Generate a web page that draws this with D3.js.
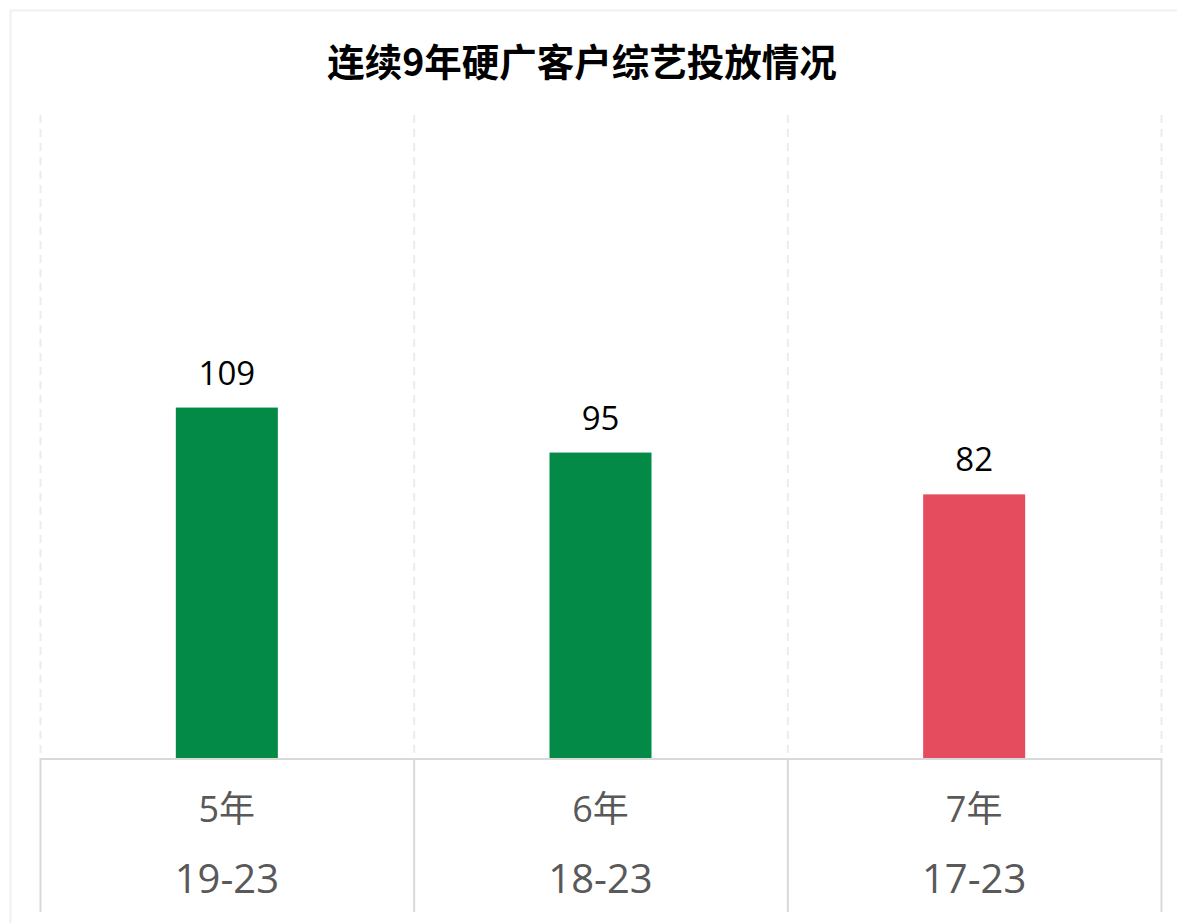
<!DOCTYPE html>
<html><head><meta charset="utf-8">
<script src="https://cdn.jsdelivr.net/npm/d3@7"></script>
<style>body{margin:0;background:#fff;font-family:"Open Sans","Noto Sans CJK SC",sans-serif;}</style>
</head><body>
<svg id="c" width="1177" height="923"></svg>
<script>
const categories = ["5年","6年","7年"];
const periods = ["19-23","18-23","17-23"];
const values = [109,95,82];
const colors = ["#048a47","#048a47","#e54c5e"];
const title = "连续9年硬广客户综艺投放情况";

const svg = d3.select("#c");
const m = {l:40, r:1161, t:115, b:758};
// outer frame
svg.append("rect").attr("x",10.5).attr("y",10.5).attr("width",1200).attr("height",1000)
  .attr("fill","none").attr("stroke","#f0f0f0").attr("stroke-width",2);

svg.append("text").attr("x",582).attr("y",76).attr("text-anchor","middle")
  .attr("font-family","'Noto Sans CJK SC',sans-serif").attr("font-weight","bold")
  .attr("font-size",37.5).attr("fill","#000").text(title);

const x = d3.scaleBand().domain(categories).range([m.l,m.r]).paddingInner(0).paddingOuter(0);
const y = d3.scaleLinear().domain([0,200]).range([m.b,m.t]);

// dashed grid
const bounds = [m.l, ...categories.map(c=>x(c)+x.bandwidth())];
svg.selectAll(".grid").data(bounds).enter().append("line")
  .attr("x1",d=>d+0.5).attr("x2",d=>d+0.5).attr("y1",m.t).attr("y2",m.b)
  .attr("stroke","#ececec").attr("stroke-width",2).attr("stroke-dasharray","8,6");

// bars
const bw = x.bandwidth()*0.273;
svg.selectAll(".bar").data(values).enter().append("rect")
  .attr("x",(d,i)=>x(categories[i])+x.bandwidth()/2-bw/2)
  .attr("width",bw)
  .attr("y",d=>y(d)).attr("height",d=>m.b-y(d))
  .attr("fill",(d,i)=>colors[i]);

svg.selectAll(".lbl").data(values).enter().append("text")
  .attr("x",(d,i)=>x(categories[i])+x.bandwidth()/2)
  .attr("y",d=>y(d)-23).attr("text-anchor","middle")
  .attr("font-size",33).attr("fill","#000").text(d=>d);

// category table
svg.append("line").attr("x1",m.l).attr("x2",m.r).attr("y1",m.b+1).attr("y2",m.b+1)
  .attr("stroke","#d9d9d9").attr("stroke-width",2);
svg.selectAll(".vb").data(bounds).enter().append("line")
  .attr("x1",d=>d+0.5).attr("x2",d=>d+0.5).attr("y1",m.b).attr("y2",912)
  .attr("stroke","#d9d9d9").attr("stroke-width",2);

const xAxis = svg.append("g");
categories.forEach((c,i)=>{
  const cx = x(c)+x.bandwidth()/2;
  xAxis.append("text").attr("x",cx).attr("y",822).attr("text-anchor","middle")
    .attr("font-size",36).attr("fill","#595959").text(c);
  xAxis.append("text").attr("x",cx).attr("y",893).attr("text-anchor","middle")
    .attr("font-size",40).attr("fill","#595959").text(periods[i]);
});
</script>
</body></html>
